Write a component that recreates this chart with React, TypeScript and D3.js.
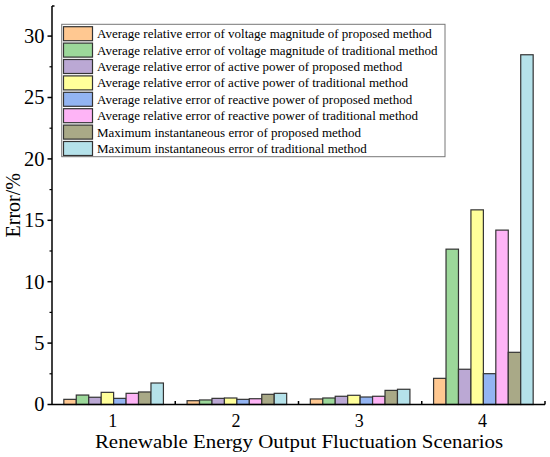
import React from 'react';
import * as d3 from 'd3';

const scenarios = ['1', '2', '3', '4'];

const seriesNames = [
  'Average relative error of voltage magnitude of proposed method',
  'Average relative error of voltage magnitude of traditional method',
  'Average relative error of active power of proposed method',
  'Average relative error of active power of traditional method',
  'Average relative error of reactive power of proposed method',
  'Average relative error of reactive power of traditional method',
  'Maximum instantaneous error of proposed method',
  'Maximum instantaneous error of traditional method',
];

const voltageProposed = [0.42, 0.31, 0.45, 2.13];
const voltageTraditional = [0.77, 0.37, 0.53, 12.65];
const activeProposed = [0.59, 0.5, 0.67, 2.87];
const activeTraditional = [0.99, 0.53, 0.75, 15.85];
const reactiveProposed = [0.5, 0.42, 0.61, 2.51];
const reactiveTraditional = [0.91, 0.47, 0.67, 14.2];
const maxProposed = [1.02, 0.83, 1.15, 4.25];
const maxTraditional = [1.75, 0.91, 1.24, 28.48];

const seriesValues = [
  voltageProposed,
  voltageTraditional,
  activeProposed,
  activeTraditional,
  reactiveProposed,
  reactiveTraditional,
  maxProposed,
  maxTraditional,
];

const colors = ['#FFC891', '#9CD89A', '#BBA8D4', '#FFFF9A', '#93B4F2', '#FEB4F6', '#A9A987', '#B5E2EA'];

const yTicks = [0, 5, 10, 15, 20, 25, 30];

const App: React.FC = () => {
  const width = 550;
  const height = 457;
  const left = 52;
  const right = 545;
  const top = 6;
  const bottom = 404.5;
  const font = '"Liberation Serif", "Times New Roman", serif';
  // the x title in the source is a bit wider than Times at its height
  const stretch = 1.1;

  const x = d3.scaleBand<string>().domain(scenarios).range([left, right]);
  const xInner = d3.scaleBand<string>()
    .domain(seriesNames)
    .range([0, x.bandwidth()])
    .paddingOuter(0.95);
  const y = d3.scaleLinear().domain([0, 32.45]).range([bottom, top]);

  const minorTicks = d3.range(2.5, 32.45, 5);

  return (
    <svg width={width} height={height} style={{ position: 'absolute', left: 0, top: 0, background: '#fff' }}>
      {/* bars */}
      {seriesValues.map((vals, si) =>
        vals.map((v, i) => (
          <rect
            key={`${si}-${i}`}
            x={(x(scenarios[i]) || 0) + (xInner(seriesNames[si]) || 0)}
            y={y(v)}
            width={xInner.bandwidth()}
            height={bottom - y(v)}
            fill={colors[si]}
            stroke="#333"
            strokeWidth={1.2}
          />
        ))
      )}

      {/* y axis */}
      <line x1={left} x2={left} y1={top} y2={bottom} stroke="#000" strokeWidth={1.5} />
      <line x1={left} x2={left + 2.5} y1={top} y2={top} stroke="#000" strokeWidth={1.5} />
      {yTicks.map(t => (
        <g key={t}>
          <line x1={left - 4.5} x2={left} y1={y(t)} y2={y(t)} stroke="#000" strokeWidth={1.5} />
          <text x={left - 7.5} y={y(t)} dy="0.34em" textAnchor="end" fontFamily={font} fontSize={20.5}>
            {t}
          </text>
        </g>
      ))}
      {minorTicks.map(t => (
        <line key={t} x1={left - 2.5} x2={left} y1={y(t)} y2={y(t)} stroke="#000" strokeWidth={1.2} />
      ))}

      {/* x axis */}
      <line x1={left} x2={right} y1={bottom} y2={bottom} stroke="#000" strokeWidth={1.5} />
      {scenarios.map(s => (
        <g key={s}>
          <line
            x1={(x(s) || 0) + x.bandwidth()}
            x2={(x(s) || 0) + x.bandwidth()}
            y1={bottom}
            y2={bottom - 3.5}
            stroke="#000"
            strokeWidth={1.5}
          />
          <text x={(x(s) || 0) + x.bandwidth() / 2 - 1} y={426.5} textAnchor="middle" fontFamily={font} fontSize={18}>
            {s}
          </text>
        </g>
      ))}

      {/* axis titles */}
      <text
        transform={`translate(${(left + right) / 2 + 0.5},448) scale(${stretch},1)`}
        textAnchor="middle"
        fontFamily={font}
        fontSize={19}
      >
        Renewable Energy Output Fluctuation Scenarios
      </text>
      <text transform={`translate(19.5,${(top + bottom) / 2}) rotate(-90)`} textAnchor="middle" fontFamily={font} fontSize={20}>
        Error/%
      </text>

      {/* legend */}
      <rect x={61.7} y={24.3} width={383.3} height={132.4} fill="#fff" stroke="#777" strokeWidth={1} />
      {seriesNames.map((name, i) => (
        <g key={name} transform={`translate(63.5,${26.7 + i * 16.4})`}>
          <rect width={29} height={14} fill={colors[i]} stroke="#333" strokeWidth={1.2} />
          <text x={33.5} y={7} dy="0.35em" fontFamily={font} fontSize={13}>
            {name}
          </text>
        </g>
      ))}
    </svg>
  );
};

export default App;
